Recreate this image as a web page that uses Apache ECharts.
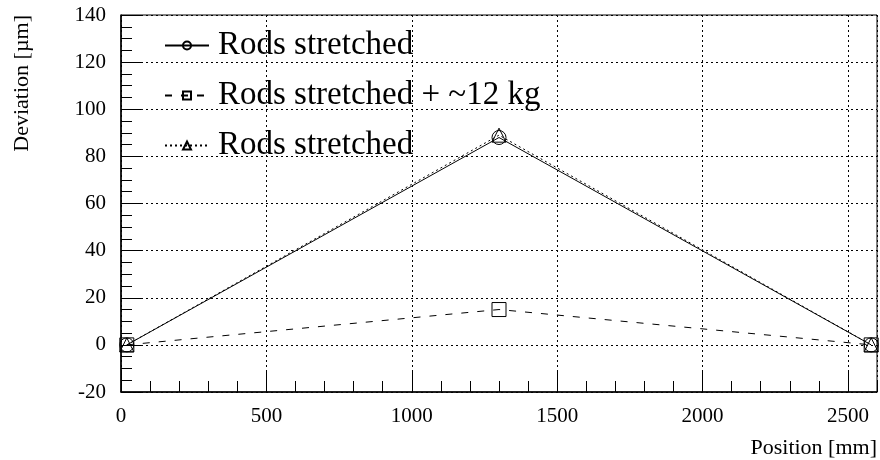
<!DOCTYPE html>
<html>
<head>
<meta charset="utf-8">
<script src="https://cdn.jsdelivr.net/npm/echarts@6/dist/echarts.min.js"></script>
<style>html,body{margin:0;padding:0;background:#fff}#c{width:880px;height:460px}</style>
</head>
<body>
<div id="c"></div>
<script>
const positions = [20, 1300, 2580];
const rodsStretched = [0, 88, 0];
const rodsStretchedLoad = [0, 15, 0];
const rodsStretched2 = [0, 89, 0];
const seriesNames = ['Rods stretched', 'Rods stretched + ~12 kg', 'Rods stretched '];
const xTitle = 'Position [mm]';
const yTitle = 'Deviation [\u00b5m]';

const FONT = 'Liberation Serif';
const pairs = arr => positions.map((x, i) => [x, arr[i]]);

const chart = echarts.init(document.getElementById('c'), null, {renderer: 'canvas'});

const lineSeries = (name, data, symbol, type) => ({
  name, type: 'line', data: pairs(data), symbol, symbolSize: 14,
  xAxisIndex: 0, yAxisIndex: 0,
  lineStyle: {color: '#000', width: 1, type},
  itemStyle: {color: 'transparent', borderColor: '#000', borderWidth: 1},
  emphasis: {disabled: true}, animation: false, z: 5
});

chart.setOption({
  animation: false,
  backgroundColor: '#fff',
  grid: {left: 121, right: 3, top: 15, bottom: 68, show: true, borderColor: '#000', borderWidth: 1, backgroundColor: 'transparent'},
  legend: {
    orient: 'vertical', left: 159, top: 24, itemWidth: 44, itemHeight: 10, itemGap: 17,
    selectedMode: false, data: seriesNames,
    textStyle: {fontFamily: FONT, fontSize: 33, color: '#000', padding: [0, 0, 0, 4]}
  },
  xAxis: [{
    type: 'value', min: 0, max: 2600, interval: 500,
    axisLine: {show: true, onZero: false, lineStyle: {color: '#000', width: 1.5}},
    axisTick: {inside: true, length: 22, lineStyle: {color: '#000'}},
    axisLabel: {fontFamily: FONT, fontSize: 21, color: '#000', margin: 14, showMaxLabel: false,
      formatter: v => (v % 500 === 0 ? String(v) : '')},
    splitLine: {show: true, lineStyle: {color: '#000', type: [2, 3], width: 1}}
  }, {
    type: 'value', min: 0, max: 2600, interval: 100, position: 'bottom',
    axisLine: {show: false, onZero: false},
    axisTick: {inside: true, length: 11, lineStyle: {color: '#000'}},
    axisLabel: {show: false},
    splitLine: {show: false}
  }],
  yAxis: [{
    type: 'value', min: -20, max: 140, interval: 20,
    axisLine: {show: true, onZero: false, lineStyle: {color: '#000', width: 1.5}},
    axisTick: {inside: true, length: 22, lineStyle: {color: '#000'}},
    minorTick: {show: true, splitNumber: 4, length: 11, lineStyle: {color: '#000'}},
    axisLabel: {fontFamily: FONT, fontSize: 21, color: '#000', margin: 15},
    splitLine: {show: true, lineStyle: {color: '#000', type: [2, 3], width: 1}}
  }],
  graphic: [
    {type: 'text', x: 22, y: 15, rotation: Math.PI / 2,
      style: {text: yTitle, fontFamily: FONT, fontSize: 22, fill: '#000', align: 'right', verticalAlign: 'middle'}},
    {type: 'text', x: 877, y: 448,
      style: {text: xTitle, fontFamily: FONT, fontSize: 22, fill: '#000', align: 'right', verticalAlign: 'middle'}}
  ],
  series: [
    lineSeries(seriesNames[0], rodsStretched, 'circle', 'solid'),
    lineSeries(seriesNames[1], rodsStretchedLoad, 'rect', [7, 9]),
    lineSeries(seriesNames[2], rodsStretched2, 'triangle', [2, 3])
  ]
});
</script>
</body>
</html>
